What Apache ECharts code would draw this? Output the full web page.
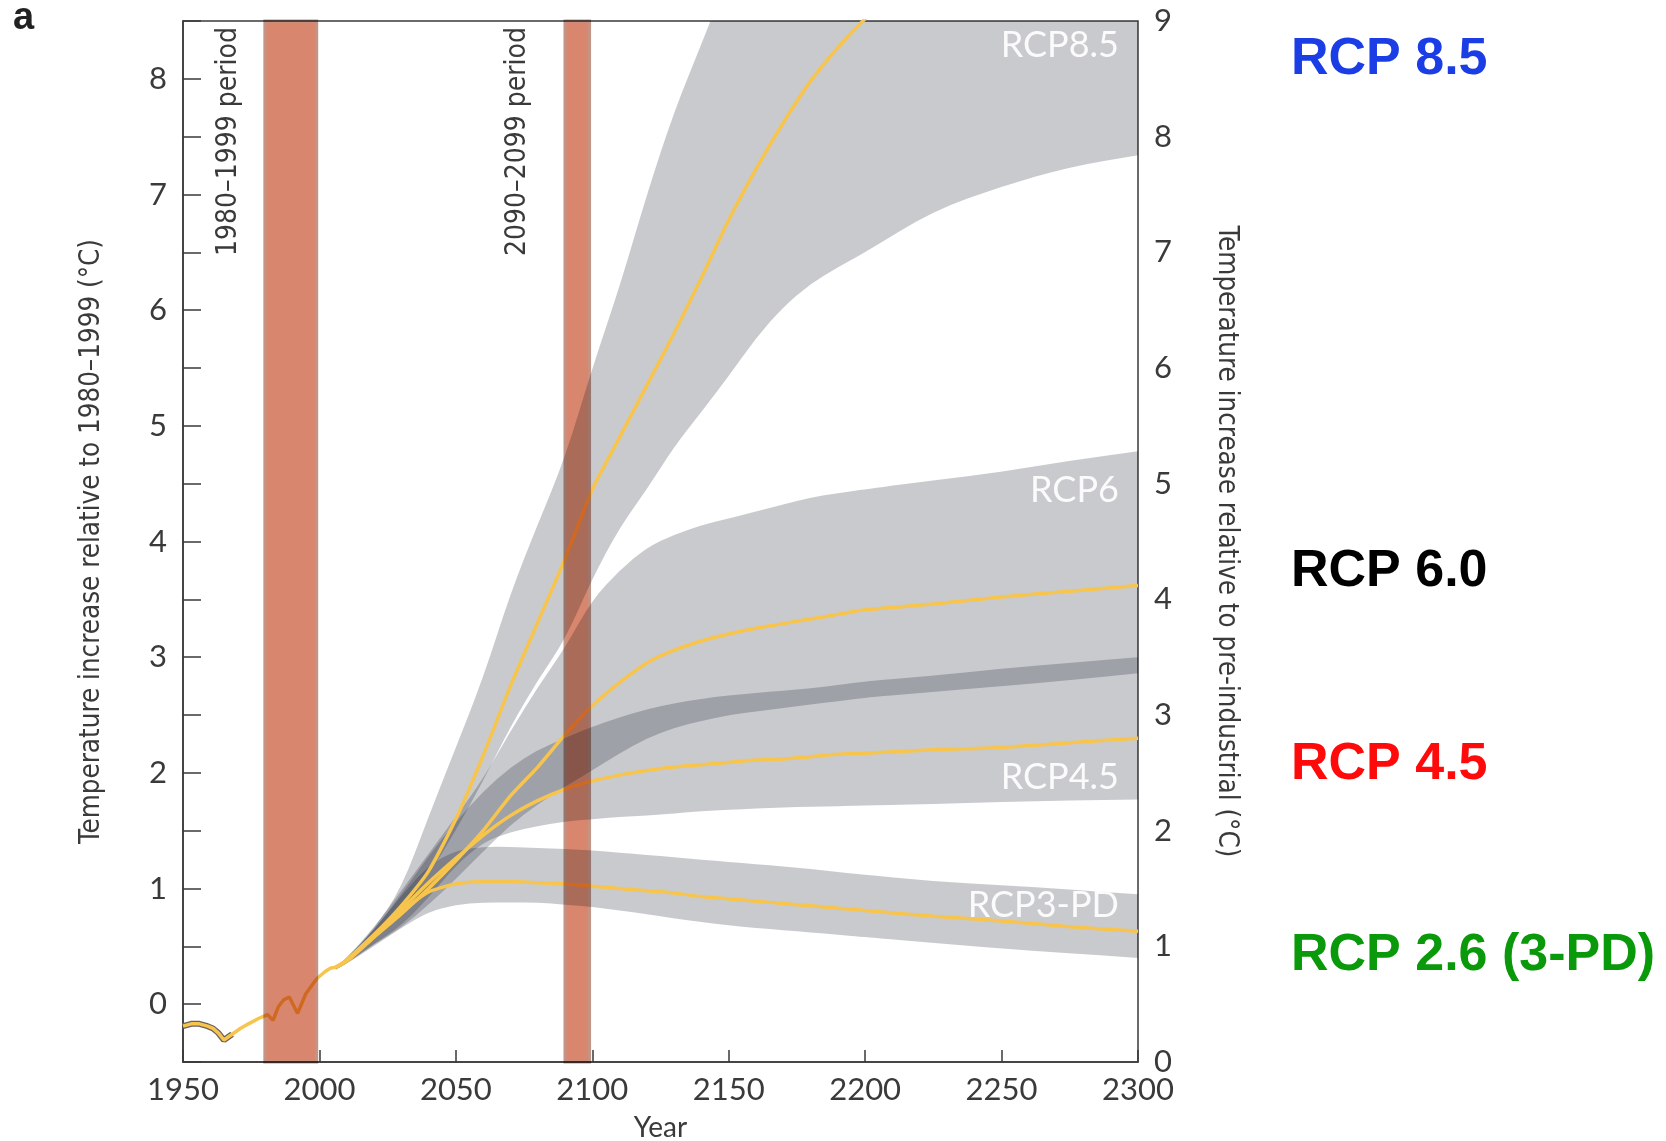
<!DOCTYPE html>
<html>
<head>
<meta charset="utf-8">
<title>Temperature projections to 2300</title>
<script src="https://cdn.jsdelivr.net/npm/echarts@6/dist/echarts.min.js"></script>
<style>
  html, body { margin: 0; padding: 0; background: #ffffff; }
  #chart { width: 1666px; height: 1141px; }
</style>
</head>
<body>
<div id="chart"></div>
<script>
// ---------- data (temperature relative to 1980–1999, °C) ----------
const histYears = [1950, 1953, 1956, 1959, 1961, 1963, 1965, 1968, 1971, 1974, 1978, 1981, 1983, 1985, 1987, 1989, 1992, 1995, 1999, 2002, 2004, 2006];
const histTemp  = [-0.19, -0.17, -0.17, -0.19, -0.21, -0.25, -0.31, -0.26, -0.21, -0.17, -0.12, -0.09, -0.14, -0.02, 0.04, 0.06, -0.08, 0.09, 0.22, 0.28, 0.31, 0.32];

const projYears = [2006, 2010, 2020, 2030, 2040, 2050, 2060, 2070, 2080, 2090, 2100, 2110, 2120, 2130, 2140, 2150, 2160, 2170, 2180, 2190, 2200, 2225, 2250, 2275, 2300];

const rcp85Upper  = [0.32, 0.40, 0.65, 1.00, 1.62, 2.22, 2.82, 3.55, 4.15, 4.72, 5.50, 6.20, 7.00, 7.72, 8.30, 8.90, 9.40, 9.80, 10.1, 10.4, 10.6, 11.0, 11.3, 11.5, 11.7];
const rcp85Median = [0.32, 0.38, 0.60, 0.85, 1.15, 1.60, 2.15, 2.75, 3.30, 3.85, 4.45, 4.90, 5.35, 5.80, 6.28, 6.78, 7.22, 7.62, 7.98, 8.27, 8.52, 9.10, 9.60, 10.0, 10.4];
const rcp85Lower  = [0.30, 0.36, 0.55, 0.80, 1.12, 1.50, 1.93, 2.40, 2.80, 3.15, 3.68, 4.12, 4.45, 4.82, 5.12, 5.43, 5.76, 6.03, 6.23, 6.37, 6.50, 6.86, 7.07, 7.24, 7.34];

const rcp6Upper   = [0.32, 0.40, 0.66, 0.98, 1.30, 1.62, 1.95, 2.36, 2.74, 3.08, 3.50, 3.75, 3.95, 4.06, 4.14, 4.20, 4.26, 4.32, 4.38, 4.42, 4.45, 4.53, 4.60, 4.70, 4.78];
const rcp6Median  = [0.32, 0.38, 0.58, 0.78, 1.00, 1.24, 1.50, 1.80, 2.05, 2.33, 2.58, 2.78, 2.95, 3.06, 3.14, 3.20, 3.25, 3.29, 3.33, 3.37, 3.41, 3.46, 3.52, 3.57, 3.62];
const rcp6Lower   = [0.30, 0.35, 0.52, 0.66, 0.86, 1.08, 1.32, 1.55, 1.73, 1.88, 2.02, 2.17, 2.30, 2.39, 2.45, 2.50, 2.53, 2.56, 2.59, 2.62, 2.65, 2.70, 2.75, 2.80, 2.86];

const rcp45Upper  = [0.32, 0.39, 0.64, 0.95, 1.28, 1.58, 1.84, 2.05, 2.20, 2.30, 2.40, 2.48, 2.55, 2.60, 2.64, 2.67, 2.69, 2.71, 2.73, 2.76, 2.79, 2.84, 2.90, 2.95, 3.00];
const rcp45Median = [0.32, 0.38, 0.60, 0.82, 1.05, 1.26, 1.46, 1.63, 1.76, 1.86, 1.93, 1.98, 2.02, 2.05, 2.07, 2.09, 2.11, 2.12, 2.14, 2.16, 2.17, 2.20, 2.22, 2.26, 2.30];
const rcp45Lower  = [0.30, 0.35, 0.52, 0.68, 0.92, 1.20, 1.40, 1.49, 1.54, 1.58, 1.60, 1.62, 1.63, 1.65, 1.67, 1.68, 1.69, 1.70, 1.71, 1.71, 1.72, 1.73, 1.75, 1.76, 1.77];

const rcp3Upper   = [0.32, 0.39, 0.64, 0.94, 1.20, 1.33, 1.36, 1.36, 1.35, 1.34, 1.33, 1.31, 1.29, 1.27, 1.25, 1.23, 1.21, 1.19, 1.17, 1.14, 1.12, 1.06, 1.03, 0.99, 0.95];
const rcp3Median  = [0.32, 0.37, 0.58, 0.80, 0.97, 1.04, 1.06, 1.06, 1.05, 1.04, 1.02, 1.00, 0.98, 0.96, 0.93, 0.91, 0.89, 0.87, 0.85, 0.83, 0.81, 0.76, 0.72, 0.67, 0.63];
const rcp3Lower   = [0.30, 0.35, 0.50, 0.66, 0.80, 0.86, 0.88, 0.88, 0.88, 0.86, 0.84, 0.81, 0.78, 0.74, 0.71, 0.68, 0.66, 0.64, 0.62, 0.60, 0.58, 0.53, 0.48, 0.44, 0.40];

const periodBands  = [[1980, 1999], [2090, 2099]];
const periodLabels = ['1980–1999 period', '2090–2099 period'];

const scenarioNames = ['RCP8.5', 'RCP6', 'RCP4.5', 'RCP3-PD'];
const sideLabels    = ['RCP 8.5', 'RCP 6.0', 'RCP 4.5', 'RCP 2.6 (3-PD)'];

// ---------- styling ----------
const INK = '#3a3a3a';
const FAN_FILL = 'rgba(15,18,35,0.225)';
const MEDIAN = '#f7c54d';
const BAND_FILL = '#d8876e';
const tickFont = "'Lato', 'Open Sans', sans-serif";
const condFont = "'Liberation Sans Narrow', 'DejaVu Sans Condensed', 'Roboto', sans-serif";

const chart = echarts.init(document.getElementById('chart'), null, { renderer: 'canvas' });

// Smooth outline through pixel points using quadratic segments between midpoints.
function smoothRun(pts, startCmd) {
  let d = startCmd + pts[0][0] + ' ' + pts[0][1];
  if (pts.length < 3) {
    for (let i = 1; i < pts.length; i++) d += ' L' + pts[i][0] + ' ' + pts[i][1];
    return d;
  }
  const mid = (a, b) => [(a[0] + b[0]) / 2, (a[1] + b[1]) / 2];
  const m0 = mid(pts[0], pts[1]);
  d += ' L' + m0[0] + ' ' + m0[1];
  for (let i = 1; i < pts.length - 1; i++) {
    const m = mid(pts[i], pts[i + 1]);
    d += ' Q' + pts[i][0] + ' ' + pts[i][1] + ' ' + m[0] + ' ' + m[1];
  }
  const last = pts[pts.length - 1];
  d += ' L' + last[0] + ' ' + last[1];
  return d;
}

function fanSeries(name, upper, lower) {
  return {
    name: name + ' range',
    type: 'custom',
    clip: true,
    z: 2,
    silent: true,
    data: [[projYears[0], lower[0]]],
    renderItem: function (params, api) {
      const top = projYears.map((y, i) => api.coord([y, upper[i]]));
      const bottom = projYears.map((y, i) => api.coord([y, lower[i]])).reverse();
      const d = smoothRun(top, 'M') + ' ' + smoothRun(bottom, 'L') + ' Z';
      return { type: 'path', shape: { pathData: d }, style: { fill: FAN_FILL } };
    }
  };
}

function medianSeries(name, values) {
  return {
    name: name,
    type: 'line',
    z: 4,
    silent: true,
    showSymbol: false,
    smooth: 0.2,
    data: projYears.map((y, i) => [y, values[i]]),
    lineStyle: { color: MEDIAN, width: 3.5 }
  };
}

const option = {
  backgroundColor: '#ffffff',
  animation: false,
  grid: {
    left: 183, right: 528, top: 21, bottom: 79,
    outerBoundsMode: 'none', containLabel: false,
    show: true, borderColor: INK, borderWidth: 1.5, backgroundColor: 'transparent'
  },
  xAxis: {
    type: 'value', min: 1950, max: 2300, interval: 50,
    name: 'Year', nameLocation: 'middle', nameGap: 52,
    nameTextStyle: { fontFamily: tickFont, fontSize: 28, color: INK },
    axisLine: { show: true, onZero: false, lineStyle: { color: INK, width: 1.5 } },
    axisTick: { show: true, inside: true, length: 12, lineStyle: { color: INK, width: 1.5 } },
    axisLabel: { fontFamily: tickFont, fontSize: 31, color: INK, margin: 12, formatter: v => String(v) },
    splitLine: { show: false }
  },
  yAxis: [
    {
      type: 'value', min: -0.5, max: 8.5, interval: 0.5, position: 'left',
      name: 'Temperature increase relative to 1980–1999 (°C)',
      nameLocation: 'middle', nameRotate: 90, nameGap: 77,
      nameTextStyle: { fontFamily: condFont, fontSize: 27.5, color: INK },
      axisLine: { show: true, onZero: false, lineStyle: { color: INK, width: 1.5 } },
      axisTick: { show: true, inside: true, length: 18, lineStyle: { color: INK, width: 1.5 } },
      axisLabel: {
        fontFamily: tickFont, fontSize: 31, color: INK, margin: 16,
        formatter: v => (Number.isInteger(v) ? String(v) : '')
      },
      splitLine: { show: false }
    },
    {
      type: 'value', min: 0, max: 9, interval: 1, position: 'right',
      name: 'Temperature increase relative to pre-industrial (°C)',
      nameLocation: 'middle', nameRotate: -90, nameGap: 74,
      nameTextStyle: { fontFamily: condFont, fontSize: 27.5, color: INK },
      axisLine: { show: false, onZero: false },
      axisTick: { show: false },
      axisLabel: { fontFamily: tickFont, fontSize: 31, color: INK, margin: 16 },
      splitLine: { show: false }
    }
  ],
  series: [
    fanSeries(scenarioNames[0], rcp85Upper, rcp85Lower),
    fanSeries(scenarioNames[1], rcp6Upper, rcp6Lower),
    fanSeries(scenarioNames[2], rcp45Upper, rcp45Lower),
    fanSeries(scenarioNames[3], rcp3Upper, rcp3Lower),
    {
      name: 'Observed outline', type: 'line', z: 3, silent: true, showSymbol: false,
      data: histYears.slice(0, 8).map((y, i) => [y, histTemp[i]]),
      lineStyle: { color: '#6b6158', width: 6 }
    },
    {
      name: 'Historical', type: 'line', z: 4, silent: true, showSymbol: false,
      data: histYears.map((y, i) => [y, histTemp[i]]),
      lineStyle: { color: MEDIAN, width: 3.5 }
    },
    medianSeries(scenarioNames[3], rcp3Median),
    medianSeries(scenarioNames[2], rcp45Median),
    medianSeries(scenarioNames[1], rcp6Median),
    medianSeries(scenarioNames[0], rcp85Median),
    {
      // reference periods live on their own layer, composited with multiply
      name: 'Reference periods', type: 'custom', zlevel: 1, z: 8, silent: true,
      encode: { x: [0, 1] },
      data: periodBands,
      renderItem: function (params, api) {
        const a = api.coord([api.value(0), 0]);
        const b = api.coord([api.value(1), 0]);
        const cs = params.coordSys;
        return {
          type: 'rect',
          shape: { x: a[0], y: cs.y, width: b[0] - a[0], height: cs.height },
          style: { fill: BAND_FILL, stroke: '#c29486', lineWidth: 3 }
        };
      }
    }
  ]
};

chart.setOption(option);

// ---------- annotations ----------
const px = (x, y) => chart.convertToPixel({ seriesIndex: 5 }, [x, y]);
const fanLabelAt = [[2293, 8.29], [2293, 4.44], [2293, 1.96], [2293, 0.85]];
const sideColors = ['#1a3de6', '#000000', '#ff0a0a', '#0a990a'];
const sideY = [60, 572, 765, 956];

const graphics = [];
scenarioNames.forEach((t, i) => {
  const p = px(fanLabelAt[i][0], fanLabelAt[i][1]);
  graphics.push({
    type: 'text', x: p[0], y: p[1], z: 20, silent: true,
    style: { text: t, fill: '#fbfbfb', font: "36px 'Lato', 'Open Sans', sans-serif",
             textAlign: 'right', textVerticalAlign: 'middle', align: 'right', verticalAlign: 'middle' }
  });
});
sideLabels.forEach((t, i) => {
  graphics.push({
    type: 'text', x: 1291, y: sideY[i], z: 20, silent: true,
    style: { text: t, fill: sideColors[i], font: "bold 52px 'Liberation Sans', Arial, sans-serif",
             textAlign: 'left', textVerticalAlign: 'middle', align: 'left', verticalAlign: 'middle' }
  });
});
const periodX = [229, 518];
periodLabels.forEach((t, i) => {
  graphics.push({
    type: 'text', x: periodX[i], y: 27, rotation: Math.PI / 2, z: 20, silent: true,
    style: { text: t, fill: INK, font: "28px " + condFont,
             textAlign: 'right', textVerticalAlign: 'middle', align: 'right', verticalAlign: 'middle' }
  });
});
graphics.push({
  type: 'text', x: 13, y: 19, z: 20, silent: true,
  style: { text: 'a', fill: '#222', font: "bold 38px 'Liberation Sans', Arial, sans-serif",
           textAlign: 'left', textVerticalAlign: 'middle', align: 'left', verticalAlign: 'middle' }
});

chart.setOption({ graphic: graphics });

// multiply the reference-period layer onto the plot below it
const bandLayer = document.querySelector('#chart canvas[data-zr-dom-id="zr_1"]');
if (bandLayer) bandLayer.style.mixBlendMode = 'multiply';
</script>
</body>
</html>
